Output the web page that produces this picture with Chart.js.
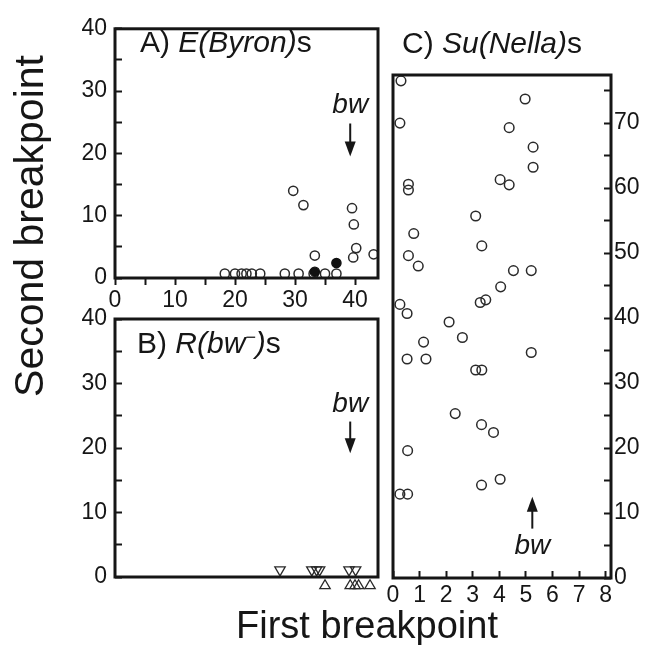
<!DOCTYPE html>
<html><head><meta charset="utf-8">
<script src="https://cdn.jsdelivr.net/npm/chart.js@4.4.1/dist/chart.umd.min.js"></script>
<style>
html,body{margin:0;padding:0;background:#fff;}
#wrap{position:relative;width:660px;height:645px;overflow:hidden;}
#wrap canvas{position:absolute;left:0;top:0;}
</style></head><body>
<div id="wrap">
<canvas id="cA" width="660" height="645"></canvas>
<canvas id="cB" width="660" height="645"></canvas>
<canvas id="cC" width="660" height="645"></canvas>
</div>
<script>
// ---------- data ----------
// Panel A: E(Byron)s
const aOpenX   = [18.3, 20.0, 21.1, 21.9, 22.8, 24.2, 28.3, 30.6, 33.1, 35.0, 36.9, 33.3, 29.7, 31.4, 39.5, 39.8, 40.2, 39.7, 43.1];
const aOpenY   = [0.7, 0.7, 0.7, 0.7, 0.7, 0.7, 0.7, 0.7, 0.7, 0.7, 0.7, 3.6, 14.0, 11.7, 11.2, 8.6, 4.8, 3.3, 3.8];
const aFilledX = [33.3, 36.9];
const aFilledY = [1.0, 2.4];
// Panel B: R(bw-)s
const bDownX = [27.5, 32.8, 33.6, 34.1, 39.0, 40.1];
const bDownY = [1.1, 1.1, 1.1, 1.1, 1.1, 1.1];
const bUpX   = [35.0, 39.2, 40.0, 40.6, 42.5];
const bUpY   = [-1.35, -1.35, -1.35, -1.35, -1.35];
// Panel C: Su(Nella)s
const cX = [0.30, 0.26, 4.97, 4.37, 5.27, 5.27, 4.03, 4.37, 0.58, 0.58, 3.11, 0.78, 3.34, 0.58, 0.95, 4.53, 5.20, 4.05, 3.49, 3.28, 0.26, 0.53, 2.11, 2.61, 1.15, 0.53, 1.24, 5.20, 3.11, 3.34, 2.34, 3.33, 3.78, 0.55, 3.33, 4.03, 0.26, 0.55];
const cY = [76.5, 70.0, 73.7, 69.3, 66.3, 63.2, 61.3, 60.5, 60.6, 59.7, 55.7, 53.0, 51.1, 49.6, 48.0, 47.3, 47.3, 44.8, 42.8, 42.4, 42.1, 40.7, 39.4, 37.0, 36.3, 33.7, 33.7, 34.7, 32.0, 32.0, 25.3, 23.6, 22.4, 19.6, 14.3, 15.2, 12.9, 12.9];
// tick labels
const xTickLabelsAB = [0, 10, 20, 30, 40];
const yTickLabelsAB = [0, 10, 20, 30, 40];
const xTickLabelsC  = [0, 1, 2, 3, 4, 5, 6, 7, 8];
const yTickLabelsC  = [0, 10, 20, 30, 40, 50, 60, 70];
// bw arrows: [x, tail y, tip y] in data units
const bwArrowA = [39.2, 24.8, 19.5];
const bwArrowB = [39.2, 24.1, 19.2];
const bwArrowC = [5.24, 7.6, 12.5];

// ---------- helpers ----------
const FONT = "'Liberation Sans', Arial, Helvetica, sans-serif";
const INK = '#161616';
const pts = (xs, ys) => xs.map((x, i) => ({x: x, y: ys[i]}));
const keep5 = s => { s.ticks = s.ticks.filter(t => Math.abs(t.value / 5 - Math.round(t.value / 5)) < 1e-6); };
const labelFrom = arr => v => (arr.indexOf(Math.round(v * 1000) / 1000) >= 0 ? String(v) : '');

function drawRich(ctx, x, y, parts) {
  ctx.textAlign = 'left'; ctx.textBaseline = 'alphabetic';
  for (const p of parts) {
    ctx.font = p[1];
    ctx.fillText(p[0], x, y + (p[2] || 0));
    x += ctx.measureText(p[0]).width;
  }
}
function drawArrow(ctx, chart, arr, labelBelow) {
  const xs = chart.scales.x, ys = chart.scales.y;
  const x = xs.getPixelForValue(arr[0]);
  const yTail = ys.getPixelForValue(arr[1]);
  const yTip = ys.getPixelForValue(arr[2]);
  const dir = Math.sign(yTip - yTail);
  const headLen = 15, headW = 5.5;
  ctx.strokeStyle = INK; ctx.fillStyle = INK; ctx.lineWidth = 2;
  ctx.beginPath(); ctx.moveTo(x, yTail); ctx.lineTo(x, yTip - dir * headLen + dir); ctx.stroke();
  ctx.beginPath(); ctx.moveTo(x, yTip); ctx.lineTo(x - headW, yTip - dir * headLen); ctx.lineTo(x + headW, yTip - dir * headLen); ctx.closePath(); ctx.fill();
  ctx.font = "italic 28px " + FONT; ctx.textAlign = 'center'; ctx.textBaseline = 'alphabetic';
  ctx.fillText('bw', x, labelBelow ? yTail + 25 : yTail - 10);
}
function decoPlugin(extra) {
  return {
    id: 'deco',
    afterDatasetsDraw(chart) {
      const ctx = chart.ctx, ca = chart.chartArea;
      ctx.save();
      ctx.strokeStyle = INK; ctx.lineWidth = 3;
      ctx.strokeRect(ca.left, ca.top, ca.right - ca.left, ca.bottom - ca.top);
      ctx.fillStyle = INK;
      extra(ctx, chart);
      ctx.restore();
    }
  };
}
function tickFont() { return {family: FONT, size: 23}; }
const inwardGrid = {display: true, drawOnChartArea: false, drawTicks: true, tickLength: -7, tickWidth: 2, tickColor: INK};
const outwardGrid = {display: true, drawOnChartArea: false, drawTicks: true, tickLength: 7, tickWidth: 2, tickColor: INK};
function axis(opts) {
  return Object.assign({type: 'linear', bounds: 'data', afterBuildTicks: keep5, border: {display: false}, grid: outwardGrid}, opts);
}
function baseOptions(padding, scales) {
  return {
    responsive: false, maintainAspectRatio: false, animation: false, events: [],
    layout: {padding: padding},
    plugins: {legend: {display: false}, tooltip: {enabled: false}},
    scales: scales
  };
}

// ---------- Panel A ----------
new Chart(document.getElementById('cA'), {
  type: 'scatter',
  data: {datasets: [
    {data: pts(aFilledX, aFilledY), pointRadius: 4.6, pointBorderWidth: 1.4, pointBackgroundColor: '#111', pointBorderColor: '#111'},
    {data: pts(aOpenX, aOpenY), pointRadius: 4.6, pointBorderWidth: 1.5, pointBackgroundColor: 'rgba(0,0,0,0)', pointBorderColor: '#2a2a2a'}
  ]},
  options: baseOptions({left: 55, top: 20, right: 282, bottom: 327}, {
    x: axis({position: 'bottom', min: 0, max: 43.83,
      ticks: {stepSize: 5, includeBounds: false, autoSkip: false, maxRotation: 0, padding: 2, color: INK, font: tickFont(), callback: labelFrom(xTickLabelsAB)},
      afterFit: s => { s.height = 40; }}),
    y: axis({position: 'left', min: 0, max: 40, grid: inwardGrid,
      ticks: {stepSize: 5, includeBounds: false, autoSkip: false, padding: 15, color: INK, font: tickFont(), callback: labelFrom(yTickLabelsAB)},
      afterFit: s => { s.width = 60; }})
  }),
  plugins: [decoPlugin((ctx, chart) => {
    drawRich(ctx, 140, 52, [['A) ', '30px ' + FONT], ['E(Byron)', 'italic 30px ' + FONT], ['s', '30px ' + FONT]]);
    drawArrow(ctx, chart, bwArrowA, false);
    // shared axis titles
    ctx.fillStyle = INK;
    ctx.font = '41px ' + FONT; ctx.textAlign = 'center'; ctx.textBaseline = 'alphabetic';
    ctx.save(); ctx.translate(43, 226); ctx.rotate(-Math.PI / 2); ctx.fillText('Second breakpoint', 0, 0); ctx.restore();
    ctx.font = '38px ' + FONT; ctx.textAlign = 'center';
    ctx.fillText('First breakpoint', 367, 638);
  })]
});

// ---------- Panel B ----------
new Chart(document.getElementById('cB'), {
  type: 'scatter',
  data: {datasets: [
    {data: pts(bDownX, bDownY), pointStyle: 'triangle', pointRotation: 180, pointRadius: 6, pointHoverRadius: 12, pointBorderWidth: 1.3, pointBackgroundColor: 'rgba(0,0,0,0)', pointBorderColor: '#2a2a2a', clip: false},
    {data: pts(bUpX, bUpY), pointStyle: 'triangle', pointRadius: 6, pointHoverRadius: 12, pointBorderWidth: 1.3, pointBackgroundColor: 'rgba(0,0,0,0)', pointBorderColor: '#2a2a2a', clip: false}
  ]},
  options: baseOptions({left: 55, top: 319, right: 282, bottom: 68}, {
    x: {type: 'linear', bounds: 'data', min: 0, max: 43.83, display: false},
    y: axis({position: 'left', min: 0, max: 40, grid: inwardGrid,
      ticks: {stepSize: 5, includeBounds: false, autoSkip: false, padding: 15, color: INK, font: tickFont(), callback: labelFrom(yTickLabelsAB)},
      afterFit: s => { s.width = 60; }})
  }),
  plugins: [decoPlugin((ctx, chart) => {
    drawRich(ctx, 137, 353, [['B) ', '30px ' + FONT], ['R(bw', 'italic 30px ' + FONT], ['\u2212', 'italic 18px ' + FONT, -10], [')', 'italic 30px ' + FONT], ['s', '30px ' + FONT]]);
    drawArrow(ctx, chart, bwArrowB, false);
  })]
});

// ---------- Panel C ----------
new Chart(document.getElementById('cC'), {
  type: 'scatter',
  data: {datasets: [
    {data: pts(cX, cY), pointRadius: 4.8, pointBorderWidth: 1.5, pointBackgroundColor: 'rgba(0,0,0,0)', pointBorderColor: '#2a2a2a'}
  ]},
  options: baseOptions({left: 393, top: 75, right: 2, bottom: 32}, {
    x: axis({position: 'bottom', min: 0, max: 8.2, afterBuildTicks: undefined, grid: inwardGrid,
      ticks: {stepSize: 1, includeBounds: false, autoSkip: false, maxRotation: 0, padding: 11, color: INK, font: tickFont(), callback: labelFrom(xTickLabelsC)},
      afterFit: s => { s.height = 35; }}),
    y: axis({position: 'right', min: 0, max: 77.4, grid: inwardGrid,
      ticks: {stepSize: 5, includeBounds: false, autoSkip: false, padding: 10, color: INK, font: tickFont(), callback: labelFrom(yTickLabelsC)},
      afterFit: s => { s.width = 47; }})
  }),
  plugins: [decoPlugin((ctx, chart) => {
    drawRich(ctx, 402, 53, [['C) ', '30px ' + FONT], ['Su(Nella)', 'italic 30px ' + FONT], ['s', '30px ' + FONT]]);
    drawArrow(ctx, chart, bwArrowC, true);
  })]
});
</script>
</body></html>
